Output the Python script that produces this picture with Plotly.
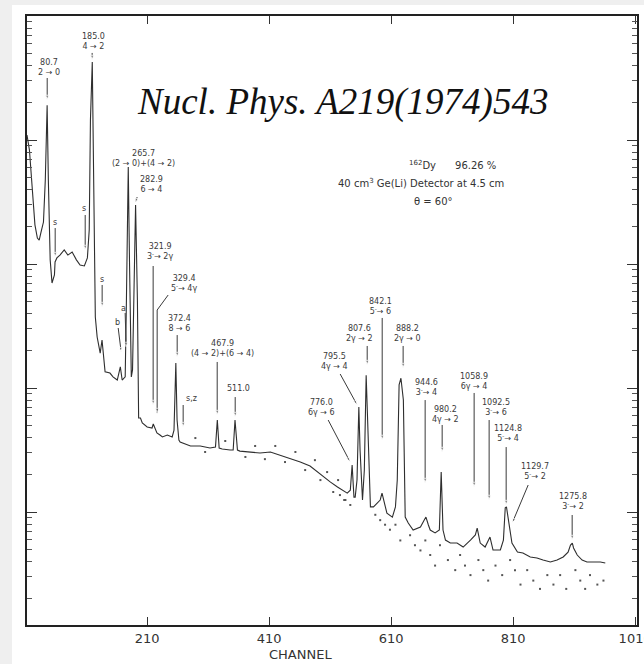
import plotly.graph_objects as go

# Gamma-ray spectrum of 162Dy, counts per channel (log scale)
channel = [13, 17, 20, 23, 26, 30, 33, 36, 40, 43, 46, 48, 51, 54, 58, 59, 62, 67, 74, 80,
           87, 94, 100, 107, 112, 115, 117, 120, 122, 125, 128, 133, 136, 141, 149, 154, 161,
           166, 169, 174, 176, 179, 181, 184, 186, 189, 191, 194, 196, 199, 202, 210, 218,
           220, 226, 231, 235, 243, 251, 254, 257, 259, 262, 264, 272, 281, 297, 313, 322,
           325, 328, 333, 346, 351, 354, 358, 362, 379, 395, 412, 428, 444, 461, 477, 499,
           510, 522, 531, 538, 543, 546, 549, 551, 554, 557, 559, 563, 566, 569, 573, 576,
           581, 587, 592, 595, 599, 603, 612, 617, 620, 623, 626, 630, 633, 638, 646, 658,
           664, 667, 671, 674, 682, 689, 692, 695, 699, 707, 718, 728, 740, 748, 751, 756,
           764, 772, 777, 789, 794, 797, 799, 802, 804, 808, 817, 826, 838, 849, 859, 871,
           882, 892, 900, 904, 907, 909, 915, 923, 931, 941, 953, 961]
counts = [109700, 83000, 52200, 32800, 20700, 16200, 15600, 18100, 21800, 47500, 191000,
          47500, 10800, 7030, 8150, 10400, 11200, 11800, 13000, 11800, 12500, 10800, 9800,
          9640, 11200, 18800, 145000, 426000, 83000, 3740, 2580, 1910, 2440, 1350, 1320, 1230,
          1160, 1480, 1160, 1230, 5130, 60500, 10800, 1230, 1400, 7430, 29900, 5130, 573, 573,
          522, 485, 476, 513, 434, 418, 403, 418, 403, 458, 1590, 552, 381, 367, 353, 341,
          341, 328, 334, 552, 328, 322, 316, 316, 552, 316, 310, 305, 299, 305, 288, 272,
          253, 235, 192, 175, 159, 150, 142, 150, 239, 132, 132, 181, 703, 316, 125, 218,
          1270, 316, 110, 110, 118, 125, 142, 114, 98, 91, 110, 181, 1060, 1200, 800, 91,
          81.5, 71.6, 75.7, 86, 91, 78.6, 71.6, 67.8, 71.6, 210, 71.6, 59.4, 56.2, 56.2,
          52.2, 59.4, 65.3, 74.3, 56.2, 52.2, 62.8, 49.4, 49.4, 59.4, 108, 110, 86, 78.6,
          56.2, 47.5, 46.7, 43.4, 42.6, 41.0, 39.5, 41.0, 43.4, 47.5, 54.2, 56.2, 51.3, 45.0,
          41.0, 39.5, 39.5, 39.5, 38.8]

# isolated counts scattered off the main trace
scatter_channel = [289, 305, 338, 371, 387, 403, 420, 436, 453, 469, 485, 494, 505, 515, 523,
                   533, 526, 535, 543, 584, 592, 600, 608, 617, 625, 641, 649, 658, 666, 674,
                   682, 690, 703, 715, 723, 731, 740, 753, 761, 769, 781, 792, 805, 813, 822,
                   833, 843, 854, 866, 876, 887, 897, 912, 920, 928, 936, 948, 958]
scatter_counts = [395, 305, 374, 278, 341, 267, 341, 253, 305, 218, 262, 181, 210, 145, 181,
                  125, 137, 125, 114, 95, 86, 79, 72, 79, 59, 65, 54, 49, 59, 45, 37, 54, 41,
                  34, 45, 37, 31, 41, 34, 28, 37, 31, 41, 34, 26, 34, 28, 24, 31, 26, 31, 24,
                  34, 28, 24, 31, 26, 28]

# x-axis tick labels
x_ticks = [210, 410, 610, 810, 1010]

# transition energies (keV) and assignments
energies = ["80.7", "185.0", "265.7", "282.9", "321.9", "329.4", "372.4", "467.9", "511.0",
            "776.0", "795.5", "807.6", "842.1", "888.2", "944.6", "980.2", "1058.9",
            "1092.5", "1124.8", "1129.7", "1275.8"]
transitions = ["2 → 0", "4 → 2", "(2 → 0)+(4 → 2)", "6 → 4", "3<sup>-</sup>→ 2γ",
               "5<sup>-</sup>→ 4γ", "8 → 6", "(4 → 2)+(6 → 4)", "", "6γ → 6", "4γ → 4",
               "2γ → 2", "5<sup>-</sup>→ 6", "2γ → 0", "3<sup>-</sup>→ 4", "4γ → 2", "6γ → 4",
               "3<sup>-</sup>→ 6", "5<sup>-</sup>→ 4", "5<sup>-</sup>→ 2", "3<sup>-</sup>→ 2"]

# label anchors: channel, log10(counts)
label_pos = [(49.3, 5.585), (121.5, 5.794), (203.4, 4.847), (216.6, 4.641), (231.3, 4.097),
             (270.7, 3.839), (262.5, 3.524), (332.9, 3.315), (359.2, 3.000), (495.2, 2.847),
             (516.5, 3.210), (557.5, 3.440), (592.0, 3.661), (636.2, 3.440), (667.4, 3.008),
             (698.5, 2.790), (746.0, 3.056), (782.1, 2.839), (801.8, 2.637), (846.0, 2.327),
             (908.3, 2.081)]

# small tags for secondary lines
tags = ["s", "s", "s", "b", "a", "s,z"]
tag_pos = [(59.2, 4.331), (106.7, 4.444), (136.2, 3.879), (160.8, 3.532), (170.7, 3.645),
           (282.1, 2.919)]

# pointer lines from labels to peaks: channels, log10(counts)
pointers = [
    ([46.1, 46.1], [5.500, 5.323]),
    ([119.8, 119.8], [5.702, 5.645]),
    ([59.2, 59.2], [4.290, 4.056]),
    ([108.4, 108.4], [4.395, 4.113]),
    ([193.6, 190.3], [4.540, 4.492]),
    ([219.8, 219.8], [3.984, 2.863]),
    ([244.4, 226.4, 226.4], [3.750, 3.629, 2.798]),
    ([136.2, 136.2], [3.831, 3.653]),
    ([162.5, 167.4], [3.484, 3.290]),
    ([173.9, 175.6], [3.605, 3.331]),
    ([259.2, 259.2], [3.427, 3.250]),
    ([269.0, 269.0], [2.863, 2.685]),
    ([324.8, 324.8], [3.210, 2.782]),
    ([354.3, 354.3], [2.927, 2.766]),
    ([506.7, 542.8], [2.742, 2.403]),
    ([526.4, 554.3], [3.113, 2.863]),
    ([570.7, 570.7], [3.339, 3.185]),
    ([595.3, 595.3], [3.565, 2.581]),
    ([629.6, 629.6], [3.339, 3.161]),
    ([665.7, 665.7], [2.903, 2.234]),
    ([693.6, 693.6], [2.702, 2.484]),
    ([746.0, 746.0], [2.960, 2.202]),
    ([770.6, 770.6], [2.742, 2.097]),
    ([798.5, 798.5], [2.524, 2.056]),
    ([834.6, 808.4], [2.218, 1.911]),
    ([906.7, 906.7], [1.976, 1.774]),
]

INK = "#2e2e2e"
LABEL_FONT = dict(family="DejaVu Sans", size=8, color="#3a3a3a")

fig = go.Figure()

fig.add_trace(go.Scatter(
    x=channel, y=counts, mode="lines",
    line=dict(color=INK, width=1.1), hoverinfo="skip", showlegend=False))

fig.add_trace(go.Scatter(
    x=scatter_channel, y=scatter_counts, mode="markers",
    marker=dict(color="#555555", size=2, symbol="square"),
    hoverinfo="skip", showlegend=False))

for xs, ls in pointers:
    fig.add_trace(go.Scatter(
        x=xs, y=[10 ** v for v in ls], mode="lines+markers",
        line=dict(color="#3a3a3a", width=1),
        marker=dict(symbol="arrow", angleref="previous",
                    size=[0] * (len(xs) - 1) + [5], color="#3a3a3a"),
        hoverinfo="skip", showlegend=False))

annotations = []
for (cx, ly), e, t in zip(label_pos, energies, transitions):
    text = e if not t else f"{e}<br>{t}"
    annotations.append(dict(x=cx, y=ly, xref="x", yref="y", text=text, showarrow=False,
                            font=LABEL_FONT, align="center"))
for (cx, ly), t in zip(tag_pos, tags):
    annotations.append(dict(x=cx, y=ly, xref="x", yref="y", text=t, showarrow=False,
                            font=LABEL_FONT))

info_font = dict(family="DejaVu Sans", size=10, color="#333333")
annotations += [
    dict(x=710, y=4.798, xref="x", yref="y", showarrow=False, font=info_font,
         text="<sup>162</sup>Dy      96.26 %"),
    dict(x=659, y=4.653, xref="x", yref="y", showarrow=False, font=info_font,
         text="40 cm<sup>3</sup> Ge(Li) Detector at 4.5 cm"),
    dict(x=679, y=4.508, xref="x", yref="y", showarrow=False, font=info_font,
         text="θ = 60°"),
    dict(x=531, y=5.306, xref="x", yref="y", showarrow=False,
         font=dict(family="Liberation Serif", size=37, color="#111111", style="italic"),
         text="Nucl. Phys. A219(1974)543"),
    dict(x=462, y=-0.049, xref="x", yref="paper", yanchor="middle", showarrow=False,
         font=dict(family="DejaVu Sans", size=13, color="#333333"), text="CHANNEL"),
]

fig.update_layout(
    width=644, height=664, autosize=False,
    margin=dict(l=27, r=7, t=16, b=39, autoexpand=False),
    paper_bgcolor="#efefef", plot_bgcolor="white",
    annotations=annotations,
    shapes=[dict(type="rect", xref="paper", yref="paper", x0=-0.0246, x1=1.05,
                 y0=-0.08, y1=1.018, fillcolor="white", line=dict(width=0), layer="below")],
)

fig.update_xaxes(
    range=[13, 1013], tickvals=x_ticks, ticktext=[str(v) for v in x_ticks],
    ticks="inside", ticklen=8, tickwidth=1.2, tickcolor="#333",
    ticklabeloverflow="allow", automargin=False,
    showline=True, linecolor="#222", linewidth=2, mirror="ticks",
    showgrid=False, zeroline=False,
    tickfont=dict(family="DejaVu Sans", size=13, color="#333333"))

fig.update_yaxes(
    type="log", range=[1.089, 6.0], dtick=1,
    ticks="inside", ticklen=10, tickwidth=1.2, tickcolor="#333",
    minor=dict(ticks="inside", ticklen=5, tickcolor="#555", showgrid=False),
    showticklabels=False, showline=True, linecolor="#222", linewidth=2, mirror="ticks",
    automargin=False, showgrid=False, zeroline=False)

fig.write_html("out.html")
